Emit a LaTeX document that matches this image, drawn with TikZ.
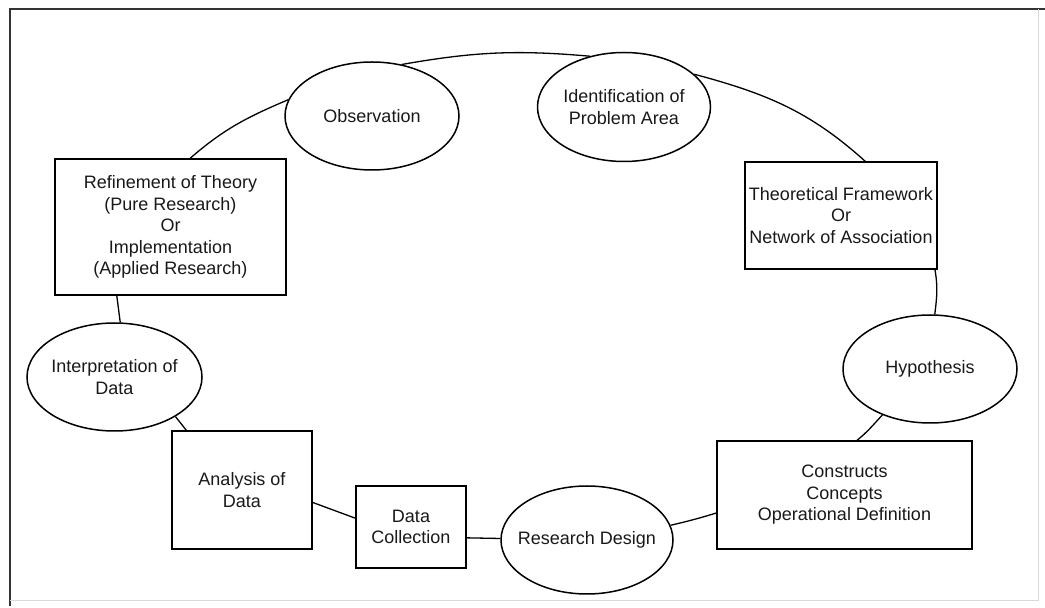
\documentclass[tikz,border=0pt]{standalone}
\usepackage{fontspec}
\setmainfont{Liberation Sans}
\usetikzlibrary{shapes.geometric}
\begin{document}
\begin{tikzpicture}[x=1pt,y=1pt,
  every node/.style={font=\fontsize{18}{21.5}\selectfont, align=center, text=black!90},
  oval/.style={ellipse, draw, line width=1.5pt, fill=white,
    inner xsep=-10pt, inner ysep=0pt, minimum width=174pt, minimum height=108pt},
  box/.style={rectangle, draw, line width=1.5pt, fill=white, inner sep=0pt},
  link/.style={line width=1.3pt}]
\useasboundingbox (0,0) rectangle (1045,608);

% page frame
\draw[line width=1.8pt, black!80] (10,2) -- (10,599) -- (1045,599);
\draw[line width=0.8pt, black!15] (1038,599) -- (1038,8) -- (10,8);

% stages of the research cycle
\node[oval] (obs) at (372,492) {Observation};
\node[oval, minimum width=173pt, minimum height=109pt] (ident) at (624,501) {Identification of\\Problem Area};
\node[box, minimum width=192pt, minimum height=107pt] (theo) at (841,392.5)
  {Theoretical Framework\\Or\\Network of Association};
\node[oval] (hyp) at (930,239) {Hypothesis};
\node[box, minimum width=255pt, minimum height=108pt] (cons) at (844.5,113)
  {Constructs\\Concepts\\Operational Definition};
\node[oval, minimum width=172pt] (rd) at (587,68) {Research Design};
\node[box, minimum width=110pt, minimum height=82pt] (dc) at (411,81) {Data\\Collection};
\node[box, minimum width=140pt, minimum height=118pt] (ana) at (242,118) {Analysis of\\Data};
\node[oval, minimum width=175pt] (interp) at (114.5,231) {Interpretation of\\Data};
\node[box, minimum width=231pt, minimum height=136pt] (ref) at (170.5,381)
  {Refinement of Theory\\(Pure Research)\\Or\\Implementation\\(Applied Research)};

% connecting arcs
\draw[link] (ref.74) to[out=41, in=203] (obs.169);
\draw[link] (obs.60) to[out=10, in=175] (ident.124);
\draw[link] (ident.25) to[out=-15, in=138] (theo.66);
\draw[link] (theo.-30) to[out=-80, in=83] (hyp.85);
\draw[link] (hyp.224) to[out=227, in=39] (cons.77);
\draw[link] (cons.188) to[out=197, in=13] (rd.10);
\draw[link] (rd.179) -- (dc.-11);
\draw[link] (dc.171) -- (ana.-10.5);
\draw[link] (ana.133.5) -- (interp.-33.5);
\draw[link] (interp.84) -- (ref.232);
\end{tikzpicture}
\end{document}
